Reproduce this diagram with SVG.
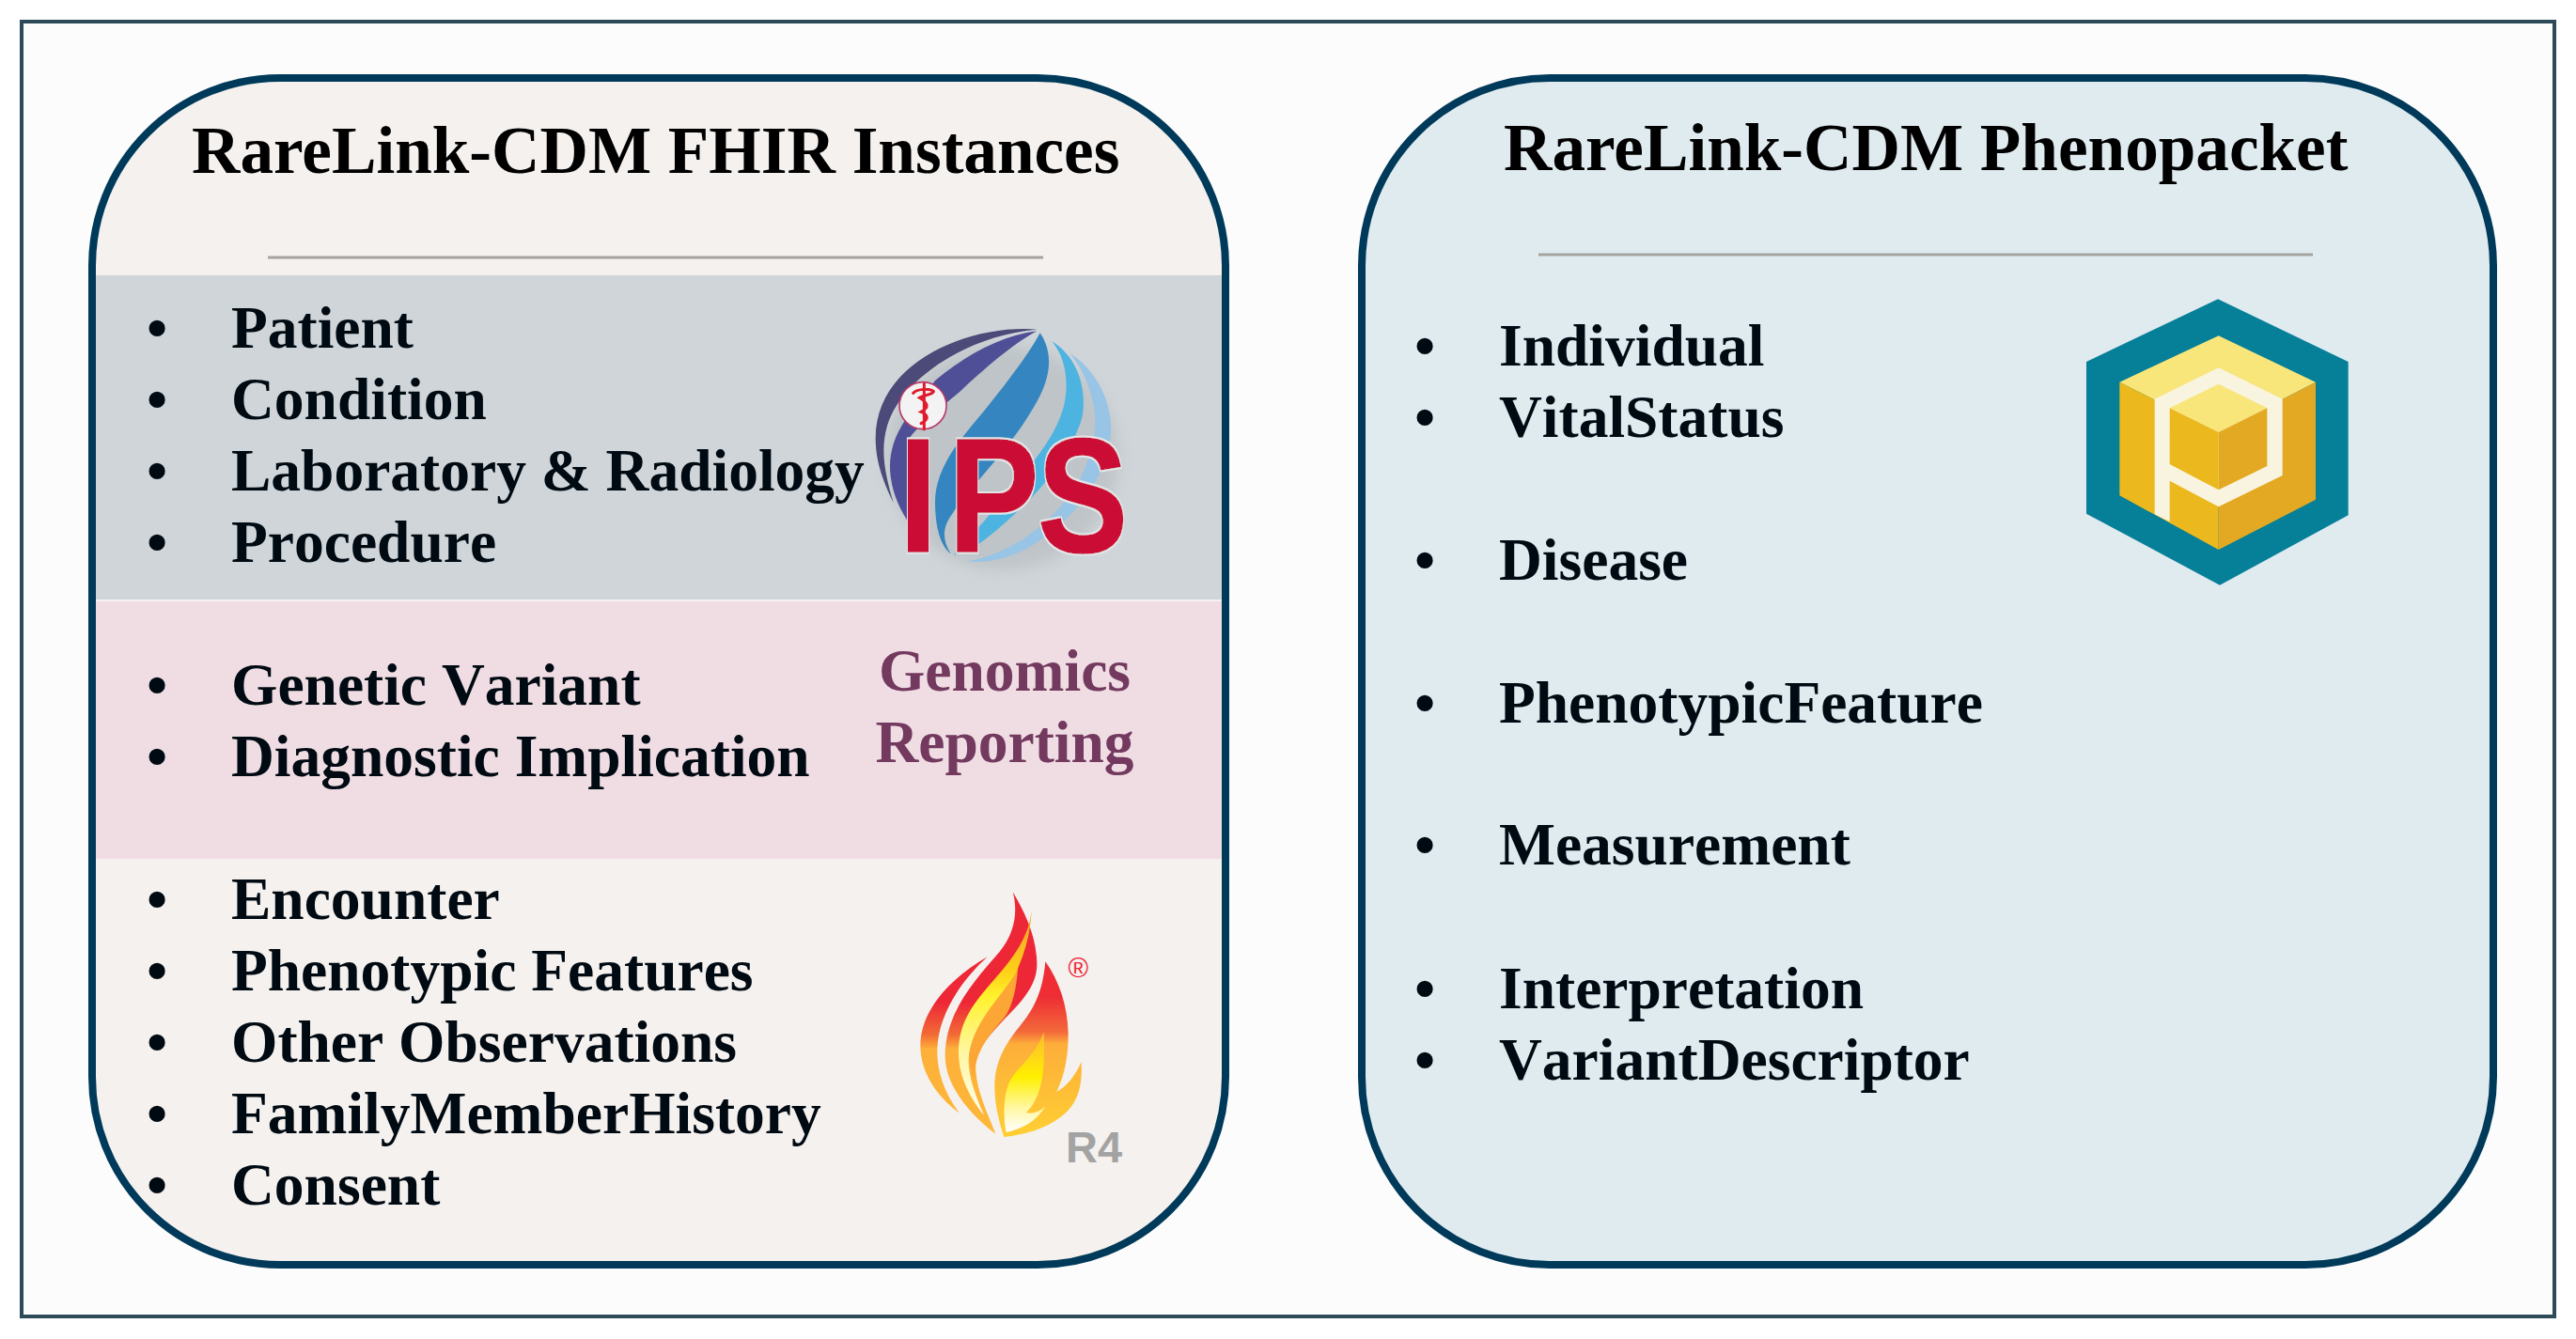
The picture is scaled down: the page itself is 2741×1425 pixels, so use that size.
<svg xmlns="http://www.w3.org/2000/svg" width="2741" height="1425" viewBox="0 0 2741 1425">
<style>
.title{font:700 71.2px "Liberation Serif",serif;fill:#000}
.item{font:700 63.5px "Liberation Serif",serif;fill:#000a12;font-kerning:none}
.geno{font:700 63.5px "Liberation Serif",serif;fill:#73395f;text-anchor:middle}
.panel{stroke:#003a5a;stroke-width:8}
.rule{stroke:#a5a3a0;stroke-width:3}
</style>
<defs>
<linearGradient id="fa" gradientUnits="userSpaceOnUse" x1="0" y1="60" x2="0" y2="840"><stop offset="0.45" stop-color="#ee2737"/><stop offset="0.58" stop-color="#f26a35"/><stop offset="0.64" stop-color="#fdb03a"/><stop offset="1" stop-color="#fdb838"/></linearGradient>
<linearGradient id="fb" gradientUnits="userSpaceOnUse" x1="0" y1="280" x2="0" y2="840"><stop offset="0.2" stop-color="#ee2d35"/><stop offset="0.4" stop-color="#f3693a"/><stop offset="0.47" stop-color="#fdae3a"/><stop offset="1" stop-color="#ffcf33"/></linearGradient>
<linearGradient id="fc" gradientUnits="userSpaceOnUse" x1="0" y1="115" x2="0" y2="772"><stop offset="0" stop-color="#f59a32"/><stop offset="0.3" stop-color="#fdd117"/><stop offset="0.42" stop-color="#fff22c"/><stop offset="0.7" stop-color="#fff7a5"/><stop offset="1" stop-color="#fffdf0"/></linearGradient>
<linearGradient id="fd" gradientUnits="userSpaceOnUse" x1="0" y1="505" x2="0" y2="825"><stop offset="0" stop-color="#fdb933"/><stop offset="0.45" stop-color="#fff000"/><stop offset="0.75" stop-color="#fff7a0"/><stop offset="1" stop-color="#ffffff"/></linearGradient>
<filter id="soft" x="-30%" y="-30%" width="160%" height="160%"><feGaussianBlur stdDeviation="22"/></filter>
<filter id="halo" x="-10%" y="-10%" width="120%" height="120%"><feMorphology in="SourceAlpha" operator="dilate" radius="5" result="d"/><feFlood flood-color="#e3e5e7"/><feComposite in2="d" operator="in" result="h"/><feMerge><feMergeNode in="h"/><feMergeNode in="SourceGraphic"/></feMerge></filter>
<clipPath id="leftClip"><rect x="98" y="83" width="1206" height="1263" rx="200"/></clipPath>
</defs>
<rect width="2741" height="1425" fill="#fff"/>
<rect id="frame" x="23" y="23" width="2695" height="1378" fill="#fcfcfc" stroke="#2c4a58" stroke-width="4"/>

<g id="fhir-panel">
<rect x="98" y="83" width="1206" height="1263" rx="200" fill="#f5f1ee"/>
<g clip-path="url(#leftClip)">
<rect x="98" y="293" width="1206" height="345" fill="#cfd5d8"/>
<rect x="98" y="640" width="1206" height="274" fill="#f0dde3"/>
</g>
<rect class="panel" x="98" y="83" width="1206" height="1263" rx="200" fill="none"/>
<text class="title" x="204" y="184">RareLink-CDM FHIR Instances</text>
<line class="rule" x1="285" y1="274" x2="1110" y2="274"/>
<g id="ips-items">
<text class="item" y="370"><tspan x="156">•</tspan><tspan x="246">Patient</tspan></text>
<text class="item" y="446"><tspan x="156">•</tspan><tspan x="246">Condition</tspan></text>
<text class="item" y="522"><tspan x="156">•</tspan><tspan x="246">Laboratory &amp; Radiology</tspan></text>
<text class="item" y="598"><tspan x="156">•</tspan><tspan x="246">Procedure</tspan></text>
</g>
<g id="genomics-items">
<text class="item" y="750"><tspan x="156">•</tspan><tspan x="246">Genetic Variant</tspan></text>
<text class="item" y="826"><tspan x="156">•</tspan><tspan x="246">Diagnostic Implication</tspan></text>
<text class="geno" x="1069" y="735">Genomics</text>
<text class="geno" x="1069" y="811">Reporting</text>
</g>
<g id="r4-items">
<text class="item" y="978"><tspan x="156">•</tspan><tspan x="246">Encounter</tspan></text>
<text class="item" y="1054"><tspan x="156">•</tspan><tspan x="246">Phenotypic Features</tspan></text>
<text class="item" y="1130"><tspan x="156">•</tspan><tspan x="246">Other Observations</tspan></text>
<text class="item" y="1206"><tspan x="156">•</tspan><tspan x="246">FamilyMemberHistory</tspan></text>
<text class="item" y="1282"><tspan x="156">•</tspan><tspan x="246">Consent</tspan></text>
</g>
</g>

<g id="ips-logo" transform="translate(880 320) scale(.33333)">
<ellipse cx="560" cy="500" rx="370" ry="360" fill="#b4babd" opacity=".6" filter="url(#soft)"/>
<path d="M670,92 C460,75 155,190 155,440 C155,520 185,590 212,645 C180,540 172,470 192,400 C235,250 450,110 670,92Z" fill="#4b4a78"/>
<path d="M670,97 C560,110 440,175 345,255 L250,380 C210,440 195,500 203,560 C210,620 235,670 262,710 L262,440 C300,390 390,320 430,285 C500,220 590,140 670,97Z" fill="#4f4f97"/>
<path d="M680,103 C640,180 530,320 445,420 C395,480 345,560 345,640 C345,720 360,780 395,808 C365,760 370,720 400,680 C450,600 580,480 660,340 C715,250 725,170 680,103Z" fill="#3586c0"/>
<path d="M775,168 C860,220 915,330 905,430 C890,590 760,720 640,790 C590,820 510,840 450,832 C560,815 680,740 760,640 C840,540 870,420 850,330 C835,260 810,210 775,168Z" fill="#98c4e6"/>
<path d="M718,130 C800,180 830,280 815,370 C785,480 690,600 600,680 C540,735 470,800 405,812 C440,765 480,730 505,700 C590,590 720,470 755,340 C775,260 760,180 718,130Z" fill="#4db3e1"/>
<circle cx="306" cy="335" r="75" fill="#f3f3f4" stroke="#b83a6a" stroke-width="5"/>
<path d="M310,265 V410 M275,295 C290,280 330,280 340,290 C335,302 310,300 295,310 C320,325 330,340 300,355 C325,365 325,380 300,392" fill="none" stroke="#e01b2b" stroke-width="9" stroke-linecap="round"/>
<text filter="url(#halo)" transform="scale(.84 1)" y="800" font-family="'Liberation Sans',sans-serif" font-weight="700" font-size="515" fill="#cb1136" stroke="#cb1136" stroke-width="5"><tspan x="275">I</tspan><tspan x="462">P</tspan><tspan x="800">S</tspan></text>
</g>

<g id="fhir-logo" transform="translate(940 930) scale(.33333)">
<path d="M332,265 C220,330 118,430 118,550 C118,640 180,720 242,763 C195,700 170,630 172,560 C175,440 260,330 332,265Z" fill="url(#fa)"/>
<path d="M413,58 C430,120 420,190 370,250 C300,330 197,440 197,580 C197,680 280,770 358,830 C335,770 300,700 295,630 C290,560 345,510 390,460 C450,400 490,350 490,290 C490,200 450,120 413,58Z" fill="url(#fa)"/>
<path d="M430,295 C400,350 330,400 290,480 C265,530 270,600 290,650 C290,570 340,510 385,460 C415,420 425,360 430,295Z" fill="#fca636"/>
<path d="M473,115 C465,200 420,260 360,330 C290,410 240,470 240,570 C240,650 280,720 322,772 C290,700 270,640 272,590 C280,480 370,400 420,320 C450,260 470,190 473,115Z" fill="url(#fc)"/>
<path d="M517,280 C510,360 490,420 440,480 C400,530 355,590 355,680 C355,740 372,800 385,840 C480,830 600,790 625,690 C635,650 632,620 632,600 C615,640 585,680 553,695 C580,640 590,580 590,510 C588,420 560,340 517,280Z" fill="url(#fb)"/>
<path d="M512,505 C490,570 440,610 410,650 C385,690 380,760 392,825 C440,815 490,790 518,740 C500,760 480,765 455,763 C500,720 518,650 512,505Z" fill="url(#fd)"/>
<text x="622" y="331" text-anchor="middle" font-family="'Liberation Sans',sans-serif" font-size="88" fill="#ee2737">®</text>
<text x="582" y="922" font-family="'Liberation Sans',sans-serif" font-weight="700" font-size="141" fill="#a3a3a3">R4</text>
</g>

<g id="phenopacket-panel">
<rect class="panel" x="1449" y="83" width="1204" height="1263" rx="200" fill="#e0ebf0"/>
<text class="title" x="1600" y="181">RareLink-CDM Phenopacket</text>
<line class="rule" x1="1637" y1="271" x2="2461" y2="271"/>
<g id="pheno-items">
<text class="item" y="389"><tspan x="1505">•</tspan><tspan x="1595">Individual</tspan></text>
<text class="item" y="465"><tspan x="1505">•</tspan><tspan x="1595">VitalStatus</tspan></text>
<text class="item" y="617"><tspan x="1505">•</tspan><tspan x="1595">Disease</tspan></text>
<text class="item" y="769"><tspan x="1505">•</tspan><tspan x="1595">PhenotypicFeature</tspan></text>
<text class="item" y="920"><tspan x="1505">•</tspan><tspan x="1595">Measurement</tspan></text>
<text class="item" y="1073"><tspan x="1505">•</tspan><tspan x="1595">Interpretation</tspan></text>
<text class="item" y="1149"><tspan x="1505">•</tspan><tspan x="1595">VariantDescriptor</tspan></text>
</g>
</g>

<g id="phenopacket-logo" transform="translate(2190 300) scale(.33333)">
<polygon points="510,55 926,255 926,745 516,968 90,740 90,255" fill="#067f98"/>
<polygon points="512,172 822,320 512,480 196,320" fill="#f8e67b"/>
<polygon points="196,320 512,480 512,855 196,682" fill="#ebb81e"/>
<polygon points="822,320 822,695 512,855 512,480" fill="#e3a923"/>
<polygon points="512,274 716,374 716,618 512,718 356,635 356,766 308,742 308,374" fill="#f9f4df"/>
<polygon points="512,326 667,403 512,480 356,403" fill="#f8e67b"/>
<polygon points="356,403 512,480 512,664 356,582" fill="#ebb81e"/>
<polygon points="667,403 667,588 512,664 512,480" fill="#e3a923"/>
</g>
</svg>
